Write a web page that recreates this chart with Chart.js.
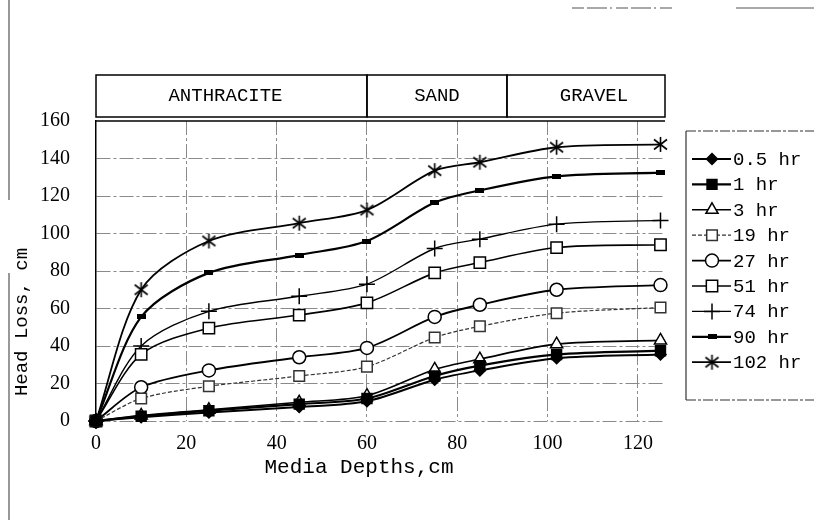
<!DOCTYPE html>
<html>
<head>
<meta charset="utf-8">
<script src="https://cdn.jsdelivr.net/npm/chart.js@4/dist/chart.umd.min.js"></script>
<style>
  html, body { margin: 0; padding: 0; background: #fff; }
  #wrap { width: 814px; height: 520px; position: relative; }
</style>
</head>
<body>
<div id="wrap"><canvas id="headLoss" width="814" height="520"></canvas></div>
<script>
const FONT = "'Liberation Mono', 'DejaVu Sans Mono', monospace";
const NUM_FONT = "'Liberation Serif', 'DejaVu Serif', serif";

// media depths (cm) where head loss was measured
const depths = [0, 10, 25, 45, 60, 75, 85, 102, 125];

// head loss (cm) for each filter run time
const loss05 = [0, 2, 4.5, 7.5, 10.5, 22, 27, 33.5, 35.5];
const loss1 = [0, 2.5, 5.5, 9, 12, 24, 29.5, 35.5, 37.5];
const loss3 = [0, 3, 6, 10, 13.5, 27.5, 33, 41, 43];
const loss19 = [0, 12, 18.5, 24, 29, 44.5, 50.5, 57.5, 60.5];
const loss27 = [0, 18, 27, 34, 39, 55.5, 62, 70, 72.5];
const loss51 = [0, 35.5, 49.5, 56.5, 63, 79, 84.5, 92.5, 94];
const loss74 = [0, 40, 58.5, 66.5, 73, 92, 97, 105, 107];
const loss90 = [0, 55.5, 79, 88.5, 96, 116.5, 123, 130.5, 132.5];
const loss102 = [0, 70, 96, 105.5, 112.5, 133.5, 138, 146, 147.5];

const runLabels = ['0.5 hr', '1 hr', '3 hr', '19 hr', '27 hr', '51 hr', '74 hr', '90 hr', '102 hr'];
const runValues = [loss05, loss1, loss3, loss19, loss27, loss51, loss74, loss90, loss102];

// filter layers along the depth axis
const layerNames = ['ANTHRACITE', 'SAND', 'GRAVEL'];
const layerEdges = [0, 60, 91, 126];

const yTicks = [0, 20, 40, 60, 80, 100, 120, 140, 160];
const xTicks = [0, 20, 40, 60, 80, 100, 120];

// small bar marker for the 90 hr run
const barMark = document.createElement('canvas');
barMark.width = 9; barMark.height = 5;
(function () {
  const c = barMark.getContext('2d');
  c.fillStyle = '#000';
  c.fillRect(0, 0, 9, 5);
})();

// asterisk marker for the 102 hr run
const starMark = document.createElement('canvas');
starMark.width = 17; starMark.height = 17;
(function () {
  const c = starMark.getContext('2d');
  c.strokeStyle = '#000';
  c.lineWidth = 1.6;
  c.beginPath();
  c.moveTo(8.5, 1); c.lineTo(8.5, 16);
  c.moveTo(2, 3.5); c.lineTo(15, 13.5);
  c.moveTo(15, 3.5); c.lineTo(2, 13.5);
  c.stroke();
})();

const styles = [
  { pointStyle: 'rectRot', radius: 5.5, fill: '#000', width: 2 },
  { pointStyle: 'rect', radius: 7, fill: '#000', width: 2.2 },
  { pointStyle: 'triangle', radius: 7, fill: '#fff', width: 1.6 },
  { pointStyle: 'rect', radius: 7.5, fill: '#fff', width: 1.2, dash: [4, 2], color: '#333' },
  { pointStyle: 'circle', radius: 6.5, fill: '#fff', width: 1.8 },
  { pointStyle: 'rect', radius: 8, fill: '#fff', width: 1.6 },
  { pointStyle: 'cross', radius: 8, fill: '#fff', width: 1.4 },
  { pointStyle: barMark, radius: 5, fill: '#000', width: 2.2 },
  { pointStyle: starMark, radius: 8, fill: '#000', width: 1.8 }
];

const datasets = runLabels.map((label, i) => {
  const s = styles[i];
  return {
    label: label,
    data: depths.map((d, j) => ({ x: d, y: runValues[i][j] })),
    borderColor: s.color || '#000',
    backgroundColor: s.fill,
    borderWidth: s.width,
    borderDash: s.dash || [],
    tension: 0.3,
    pointStyle: s.pointStyle,
    pointRadius: s.radius,
    pointBorderWidth: 1.5,
    pointBorderColor: s.color || '#000',
    pointBackgroundColor: s.fill,
    clip: false
  };
});

// layer band above the plot, axis titles, legend box and page marks
const decorations = {
  id: 'decorations',
  afterDraw(chart) {
    const ctx = chart.ctx;
    const xs = chart.scales.x;
    const area = chart.chartArea;
    ctx.save();

    // layer band
    const top = 75, bottom = 117;
    ctx.strokeStyle = '#000';
    ctx.lineWidth = 1.5;
    ctx.font = '19px ' + FONT;
    ctx.fillStyle = '#000';
    ctx.textAlign = 'center';
    ctx.textBaseline = 'middle';
    for (let i = 0; i < layerNames.length; i++) {
      const x1 = xs.getPixelForValue(layerEdges[i]);
      const x2 = xs.getPixelForValue(layerEdges[i + 1]);
      ctx.strokeRect(x1, top, x2 - x1, bottom - top);
      ctx.fillText(layerNames[i], (x1 + x2) / 2 + (i === 2 ? 8 : i === 0 ? -6 : 0), (top + bottom) / 2);
    }

    // plot top edge
    ctx.beginPath();
    ctx.moveTo(area.left, area.top);
    ctx.lineTo(area.right, area.top);
    ctx.stroke();

    // axis titles
    ctx.font = '21px ' + FONT;
    ctx.fillText('Media Depths,cm', 359, 467);
    ctx.save();
    ctx.translate(22, 322);
    ctx.rotate(-Math.PI / 2);
    ctx.font = '19px ' + FONT;
    ctx.fillText('Head Loss, cm', 0, 0);
    ctx.restore();

    // legend box
    ctx.lineWidth = 1.2;
    ctx.strokeStyle = '#333';
    ctx.beginPath();
    ctx.moveTo(686, 131); ctx.lineTo(686, 400);
    ctx.stroke();
    ctx.setLineDash([10, 2, 3, 2]);
    ctx.beginPath();
    ctx.moveTo(686, 131); ctx.lineTo(814, 131);
    ctx.moveTo(686, 400); ctx.lineTo(814, 400);
    ctx.stroke();
    ctx.setLineDash([]);

    ctx.textAlign = 'left';
    ctx.font = '19px ' + FONT;
    chart.data.datasets.forEach((ds, i) => {
      const y = 159 + i * 25.4;
      ctx.strokeStyle = ds.borderColor;
      ctx.lineWidth = ds.borderWidth;
      ctx.setLineDash(ds.borderDash);
      ctx.beginPath();
      ctx.moveTo(692, y); ctx.lineTo(731, y);
      ctx.stroke();
      ctx.setLineDash([]);
      ctx.fillStyle = ds.pointBackgroundColor;
      ctx.strokeStyle = ds.pointBorderColor;
      ctx.lineWidth = ds.pointBorderWidth;
      Chart.helpers.drawPoint(ctx, {
        pointStyle: ds.pointStyle,
        radius: ds.pointRadius,
        borderWidth: ds.pointBorderWidth,
        rotation: 0
      }, 712, y);
      ctx.fillStyle = '#000';
      ctx.fillText(ds.label, 733, y + 1);
    });

    // page edge marks
    ctx.strokeStyle = '#555';
    ctx.lineWidth = 1.2;
    ctx.beginPath();
    ctx.moveTo(9, 0); ctx.lineTo(9, 200);
    ctx.moveTo(9, 273); ctx.lineTo(9, 520);
    ctx.stroke();
    ctx.setLineDash([12, 3, 20, 3, 2, 4]);
    ctx.beginPath();
    ctx.moveTo(572, 8); ctx.lineTo(672, 8);
    ctx.stroke();
    ctx.setLineDash([]);
    ctx.beginPath();
    ctx.moveTo(736, 8); ctx.lineTo(814, 8);
    ctx.stroke();

    ctx.restore();
  }
};

new Chart(document.getElementById('headLoss'), {
  type: 'line',
  data: { datasets: datasets },
  plugins: [decorations],
  options: {
    responsive: false,
    animation: false,
    layout: { padding: { left: 0, top: 121, right: 149, bottom: 40 } },
    plugins: {
      legend: { display: false },
      tooltip: { enabled: false }
    },
    scales: {
      x: {
        type: 'linear',
        min: 0,
        max: 126,
        afterBuildTicks: (scale) => { scale.ticks = xTicks.map(v => ({ value: v })); },
        afterFit: (scale) => { scale.height = 59; },
        ticks: { color: '#000', font: { family: NUM_FONT, size: 20 }, padding: 11, maxRotation: 0 },
        grid: { color: (c) => (c.tick && c.tick.value === 0 ? 'rgba(0,0,0,0)' : '#8a8a8a'), lineWidth: 1, drawTicks: false },
        border: { display: false, dash: [14, 3, 3, 3] }
      },
      y: {
        min: 0,
        max: 160,
        afterBuildTicks: (scale) => { scale.ticks = yTicks.map(v => ({ value: v })); },
        afterFit: (scale) => { scale.width = 96; },
        ticks: { color: '#000', font: { family: NUM_FONT, size: 20 }, padding: 26 },
        grid: { color: (c) => (c.tick && c.tick.value === 160 ? 'rgba(0,0,0,0)' : '#8a8a8a'), lineWidth: 1, drawTicks: false },
        border: { display: true, color: '#000', width: 1.5, dash: [14, 3, 3, 3] }
      }
    }
  }
});
</script>
</body>
</html>
